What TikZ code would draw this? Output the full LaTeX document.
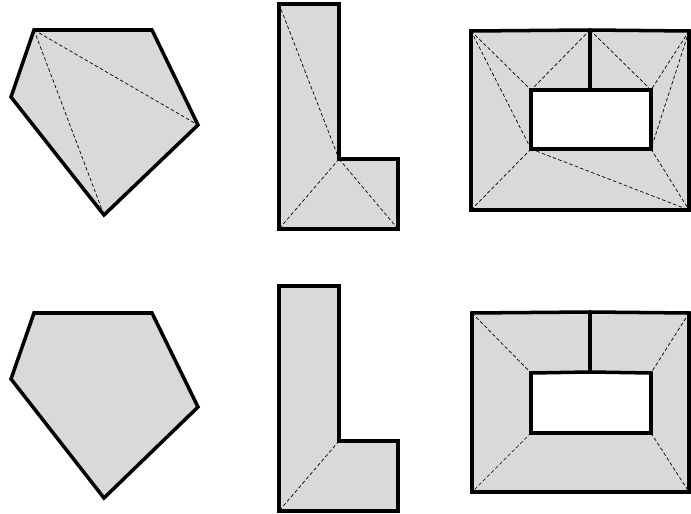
\documentclass[tikz,border=0pt]{standalone}
\usepackage{tikz}

\tikzset{
  face/.style={fill=black!15},
  edge/.style={draw=black, line width=3pt, line join=miter},
  diag/.style={draw=black, line width=0.6pt, dash pattern=on 3pt off 2pt}
}

\begin{document}
\begin{tikzpicture}[x=0.03cm,y=-0.03cm]
\useasboundingbox (0,0) rectangle (691,514);

% Top row - triangulated polygons
% pentagon
\coordinate (pa) at (34,30);
\coordinate (pb) at (152,30);
\coordinate (pc) at (198,125);
\coordinate (pd) at (104,215);
\coordinate (pe) at (11,97);
\fill[face] (pa) -- (pb) -- (pc) -- (pd) -- (pe) -- cycle;
\draw[diag] (pa) -- (pc) (pa) -- (pd);
\draw[edge] (pa) -- (pb) -- (pc) -- (pd) -- (pe) -- cycle;

% L shape
\coordinate (la) at (279,4);
\coordinate (lb) at (339,4);
\coordinate (lc) at (339,159);
\coordinate (ld) at (398,159);
\coordinate (le) at (398,229);
\coordinate (lf) at (279,229);
\fill[face] (la) -- (lb) -- (lc) -- (ld) -- (le) -- (lf) -- cycle;
\draw[diag] (la) -- (lc) (lc) -- (lf) (lc) -- (le);
\draw[edge] (la) -- (lb) -- (lc) -- (ld) -- (le) -- (lf) -- cycle;

% frame with hole
\coordinate (fa) at (471,31);
\coordinate (fs) at (590,30);
\coordinate (fb) at (689,31);
\coordinate (fc) at (689,210);
\coordinate (fd) at (471,210);
\coordinate (ha) at (531,90);
\coordinate (hs) at (590,90);
\coordinate (hb) at (651,90);
\coordinate (hc) at (651,149);
\coordinate (hd) at (531,149);
\fill[face, even odd rule] (fa) -- (fs) -- (fb) -- (fc) -- (fd) -- cycle
  (ha) -- (hb) -- (hc) -- (hd) -- cycle;
\draw[diag] (fa) -- (ha) (fa) -- (hd) (fs) -- (ha) (fs) -- (hb)
  (fb) -- (hb) (fb) -- (hc) (hd) -- (fd) (hd) -- (fc) (hc) -- (fc);
\draw[edge] (fa) -- (fs) -- (fb) -- (fc) -- (fd) -- cycle;
\draw[edge] (ha) -- (hb) -- (hc) -- (hd) -- cycle;
\draw[edge] (fs) -- (hs);

% Bottom row - convex decomposition
% pentagon
\coordinate (qa) at (34,313);
\coordinate (qb) at (152,313);
\coordinate (qc) at (198,407);
\coordinate (qd) at (104,498);
\coordinate (qe) at (11,379);
\filldraw[face, edge] (qa) -- (qb) -- (qc) -- (qd) -- (qe) -- cycle;

% L shape
\coordinate (ma) at (279,286);
\coordinate (mb) at (339,286);
\coordinate (mc) at (339,441);
\coordinate (md) at (398,441);
\coordinate (me) at (398,511);
\coordinate (mf) at (279,511);
\fill[face] (ma) -- (mb) -- (mc) -- (md) -- (me) -- (mf) -- cycle;
\draw[diag] (mc) -- (mf);
\draw[edge] (ma) -- (mb) -- (mc) -- (md) -- (me) -- (mf) -- cycle;

% frame with hole
\coordinate (ga) at (472,313);
\coordinate (gs) at (590,312);
\coordinate (gb) at (689,313);
\coordinate (gc) at (689,492);
\coordinate (gd) at (472,492);
\coordinate (ka) at (531,373);
\coordinate (ks) at (590,372);
\coordinate (kb) at (651,373);
\coordinate (kc) at (651,433);
\coordinate (kd) at (531,433);
\fill[face, even odd rule] (ga) -- (gs) -- (gb) -- (gc) -- (gd) -- cycle
  (ka) -- (ks) -- (kb) -- (kc) -- (kd) -- cycle;
\draw[diag] (ga) -- (ka) (gb) -- (kb) (kc) -- (gc) (kd) -- (gd);
\draw[edge] (ga) -- (gs) -- (gb) -- (gc) -- (gd) -- cycle;
\draw[edge] (ka) -- (ks) -- (kb) -- (kc) -- (kd) -- cycle;
\draw[edge] (gs) -- (ks);
\end{tikzpicture}
\end{document}
